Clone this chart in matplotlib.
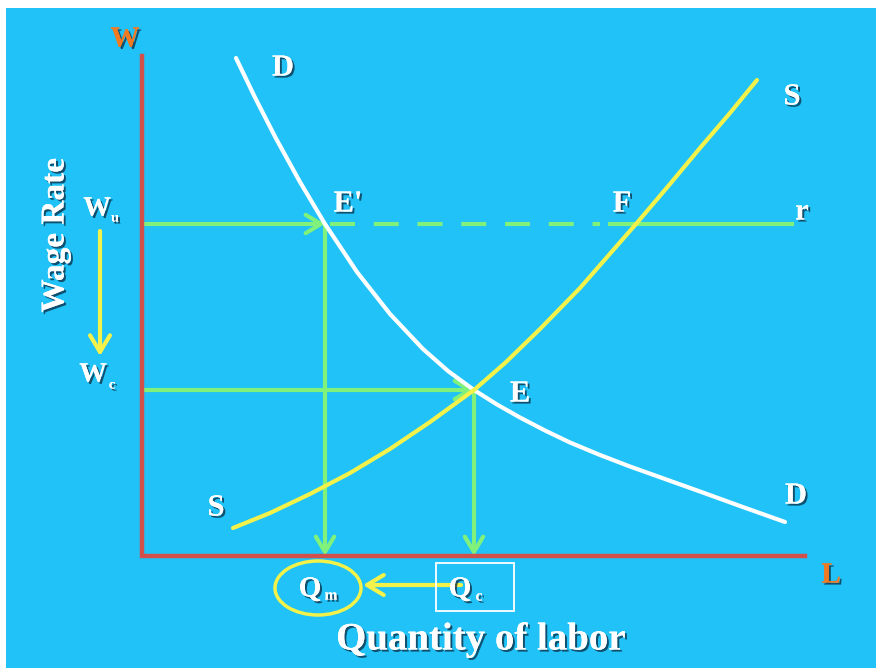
import matplotlib
matplotlib.use("Agg")
import matplotlib.pyplot as plt
import matplotlib.patheffects as pe
from matplotlib.patches import Ellipse, Rectangle, FancyArrowPatch

# ---- data (units: quantity of labor / wage rate) ----
demand_L = [1.88, 2.26, 2.68, 3.16, 3.66, 4.30, 4.96, 5.62, 6.12, 6.64,
            7.10, 7.56, 8.06, 8.56, 9.16, 9.76, 10.46, 11.16, 11.96, 12.86]
demand_W = [9.96, 9.17, 8.35, 7.48, 6.64, 5.68, 4.84, 4.14, 3.70, 3.32,
            3.03, 2.77, 2.51, 2.27, 2.02, 1.79, 1.54, 1.29, 1.00, 0.68]
supply_L = [1.82, 2.56, 3.36, 4.16, 4.96, 5.76, 6.64, 7.26, 7.96, 8.76, 9.88, 10.56, 11.16, 11.76, 12.30]
supply_W = [0.56, 0.86, 1.24, 1.66, 2.14, 2.68, 3.32, 3.86, 4.54, 5.36, 6.64, 7.44, 8.16, 8.86, 9.52]
W_u, W_c = 6.64, 3.32
Q_m, Q_c = 3.66, 6.64
r_end = 13.0
axis_top, axis_right = 10.0, 13.26

BLUE = '#20c2f7'
GREEN = '#80f27c'
YELLOW = '#f2f24a'
RED = '#d2504c'
ORANGE = '#f07a22'

fig = plt.figure(figsize=(8.76, 6.68), dpi=100, facecolor='white')
ax = fig.add_axes([6 / 876, 0, 870 / 876, 660 / 668])
ax.set_facecolor(BLUE)
ax.set_xlim(-2.72, 14.68)
ax.set_ylim(-2.24, 10.96)
ax.axis('off')
ax.add_patch(Rectangle((-2.72, -2.24), 17.4, 13.2, color=BLUE, zorder=0))

shadow = [pe.withSimplePatchShadow(offset=(1.5, -1.5), shadow_rgbFace='#0b2a40', alpha=0.75), pe.Normal()]
font = 'Liberation Serif'


def label(x, y, s, size=22, color='white', **kw):
    ax.text(x, y, s, fontsize=size, color=color, family=font, fontweight='bold',
            ha='center', va='center', path_effects=shadow, zorder=10, **kw)


def arrow(x0, y0, x1, y1, color, lw=3, scale=22):
    ax.add_patch(FancyArrowPatch((x0, y0), (x1, y1), arrowstyle='->,head_length=0.5,head_width=0.3',
                                 mutation_scale=scale, color=color, lw=lw, zorder=4,
                                 shrinkA=0, shrinkB=0, capstyle='round'))


# axes
ax.plot([0, 0, axis_right], [axis_top, 0, 0], color=RED, lw=3.2, zorder=5, solid_joinstyle='miter')

# green guide lines
arrow(0, W_u, Q_m, W_u, GREEN)
ax.plot([Q_m + 0.1, 9.16], [W_u, W_u], color=GREEN, lw=3, dashes=(6, 4.5), zorder=3)
ax.plot([9.36, r_end], [W_u, W_u], color=GREEN, lw=3, zorder=3)
arrow(Q_m, W_u, Q_m, 0, GREEN)
arrow(0, W_c, Q_c, W_c, GREEN)
arrow(Q_c, W_c, Q_c, 0, GREEN)

# curves
ax.plot(demand_L, demand_W, color='white', lw=3, zorder=6, solid_capstyle='round', solid_joinstyle='round')
ax.plot(supply_L, supply_W, color=YELLOW, lw=3, zorder=6, solid_capstyle='round', solid_joinstyle='round')

# curve / point labels
label(2.82, 9.76, 'D')
label(13.0, 9.18, 'S')
label(4.12, 7.04, "E'")
label(9.6, 7.04, 'F')
label(13.2, 6.88, 'r')
label(7.56, 3.24, 'E')
label(13.08, 1.2, 'D')
label(1.48, 0.96, 'S')
label(-0.34, 10.34, 'W', size=21, color=ORANGE)
label(13.78, -0.38, 'L', size=21, color=ORANGE)

# wage labels
label(-0.9, 6.94, 'W', size=20)
label(-0.54, 6.76, 'u', size=10)
label(-0.98, 3.62, 'W', size=20)
label(-0.6, 3.42, 'c', size=10)
arrow(-0.84, 6.5, -0.84, 4.0, YELLOW, lw=3, scale=24)
label(-1.74, 6.42, 'Wage Rate', size=24, rotation=90)

# quantity labels
ax.add_patch(Ellipse((3.52, -0.64), 1.72, 1.08, fill=False, ec=YELLOW, lw=2.5, zorder=7))
label(3.36, -0.66, 'Q', size=21)
label(3.78, -0.8, 'm', size=11)
ax.add_patch(Rectangle((5.88, -1.1), 1.56, 0.96, fill=False, ec='white', lw=1.3, zorder=7))
label(6.36, -0.66, 'Q', size=21)
label(6.74, -0.82, 'c', size=11)
arrow(6.38, -0.58, 4.42, -0.58, YELLOW, lw=3, scale=24)
label(6.78, -1.68, 'Quantity of labor', size=28)

fig.savefig('out.png', dpi=100, facecolor='white')
